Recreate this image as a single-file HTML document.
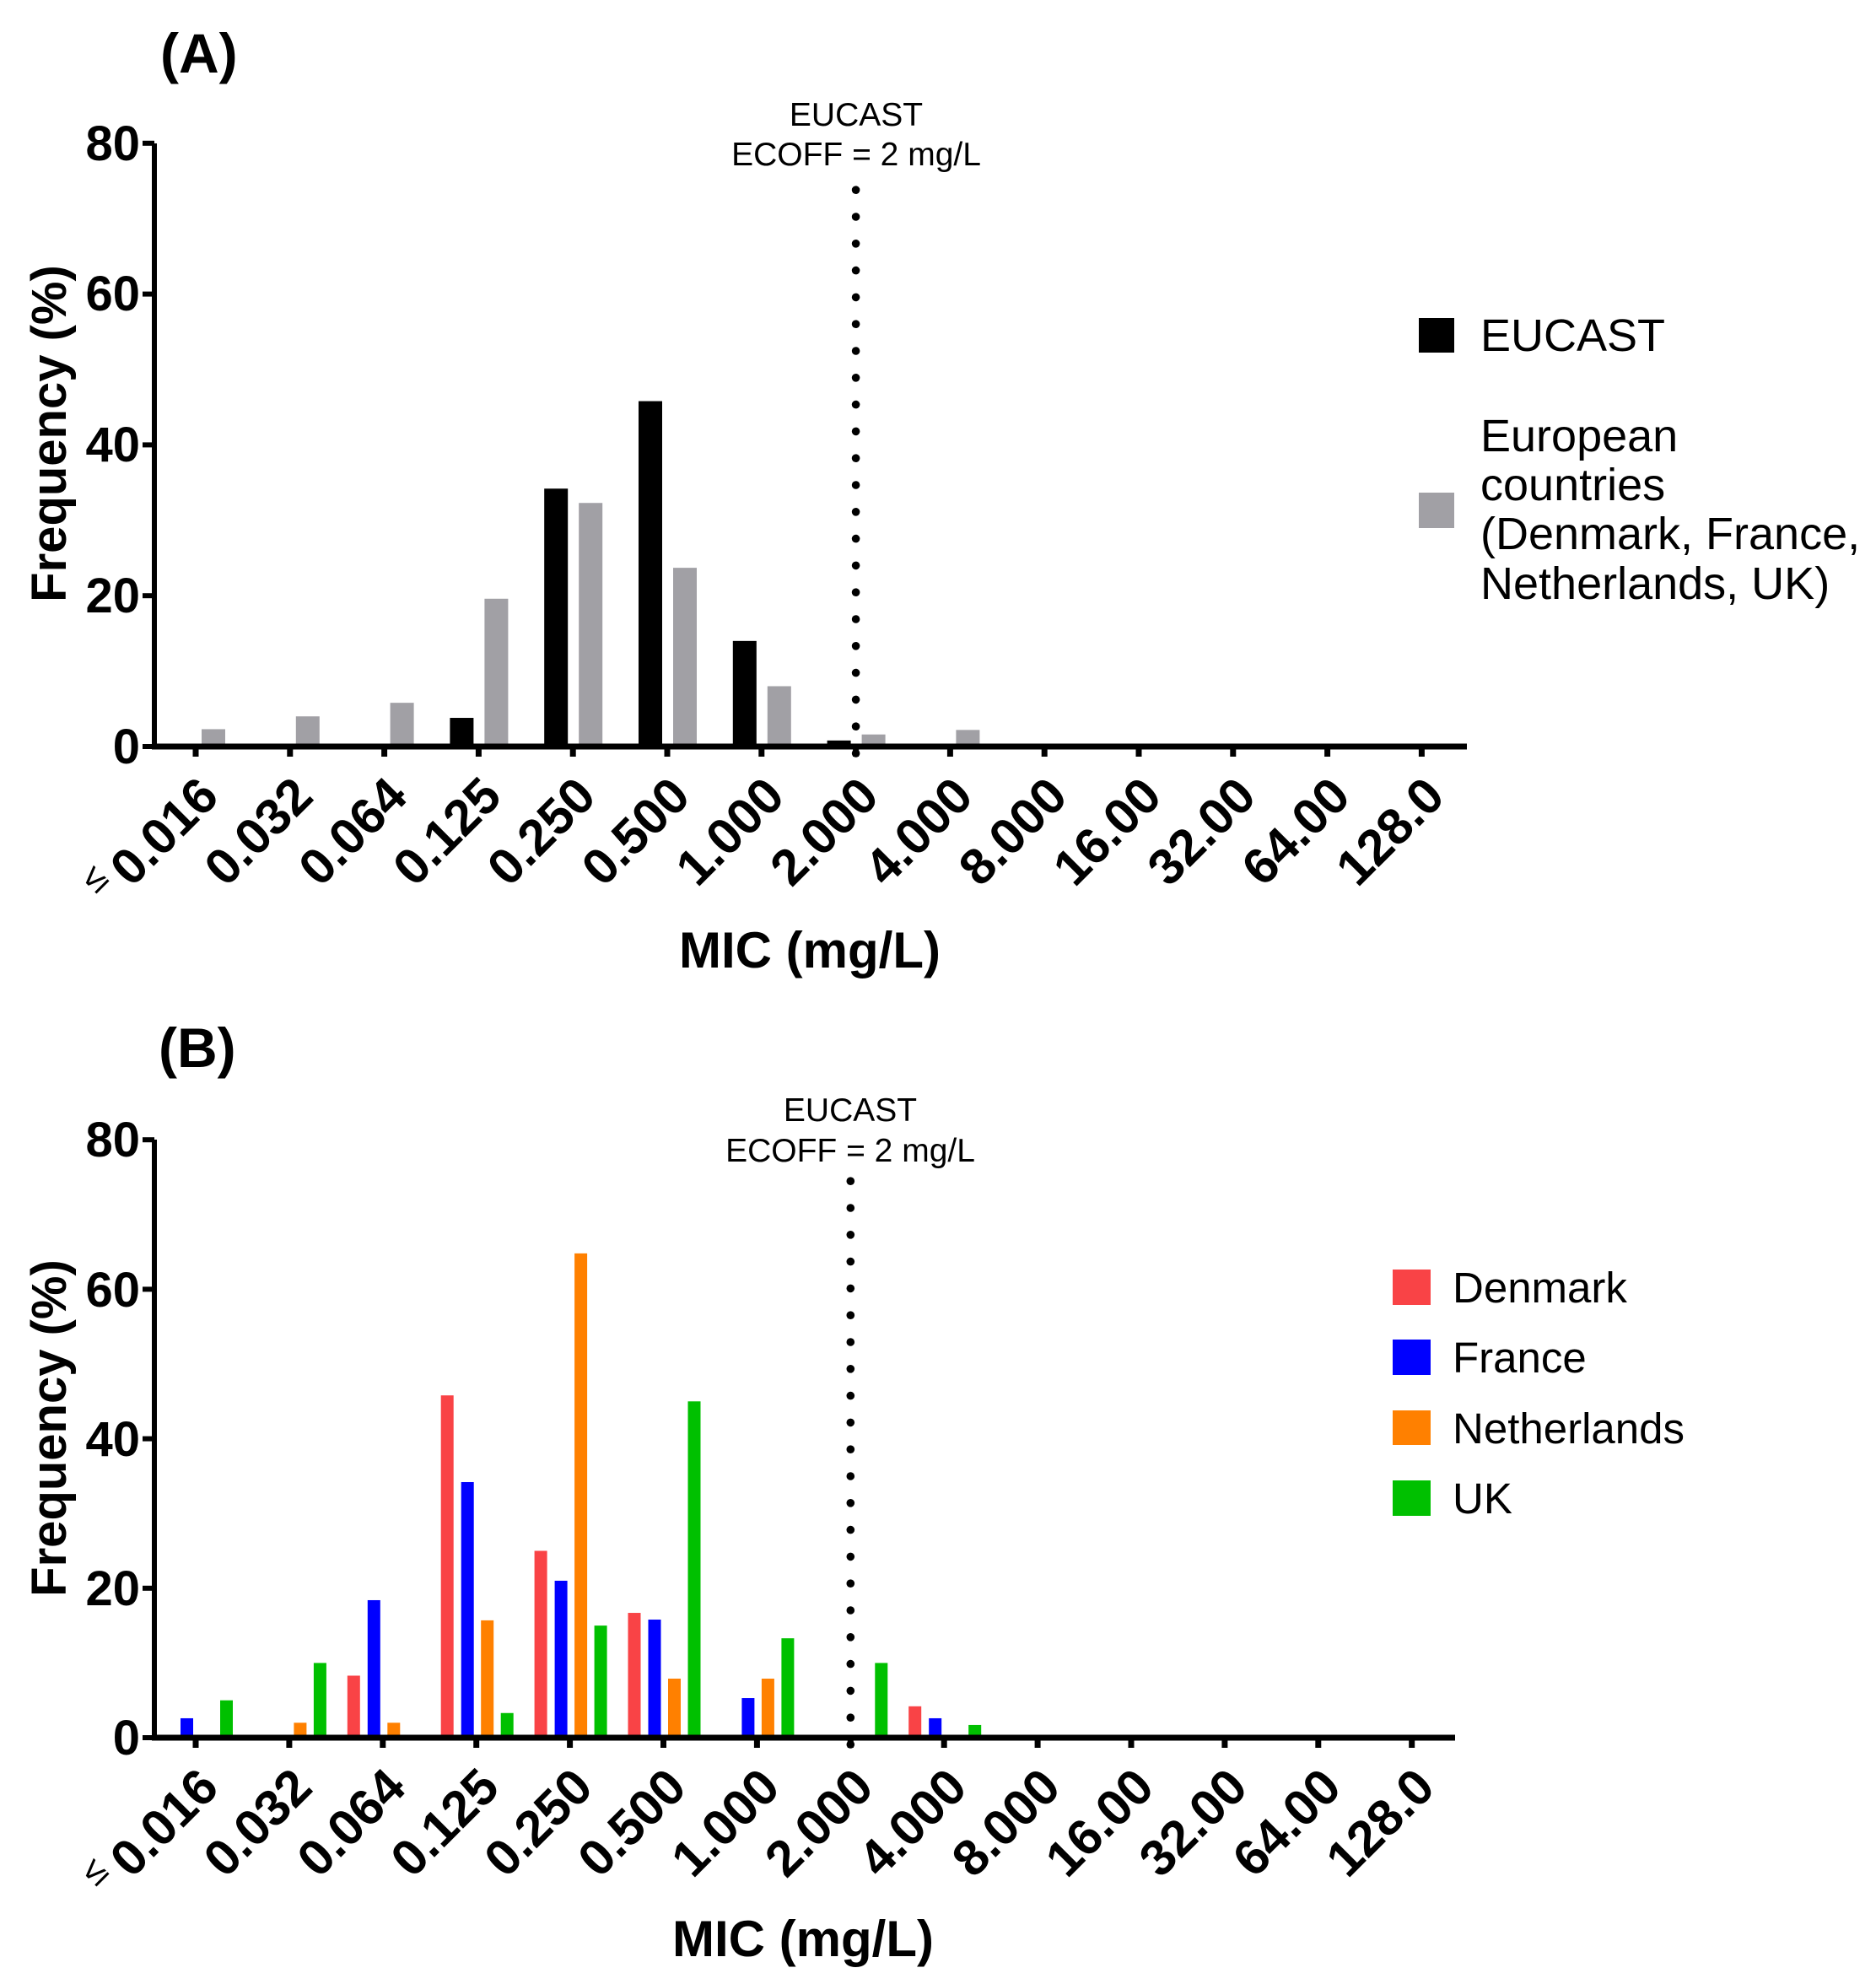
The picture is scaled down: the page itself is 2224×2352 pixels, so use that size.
<!DOCTYPE html>
<html><head><meta charset="utf-8">
<style>
html,body{margin:0;padding:0;background:#fff;}
svg{display:block;}
text{font-family:"Liberation Sans",Arial,sans-serif;}
.b{font-weight:bold;}
</style></head>
<body>
<svg id="s" width="2224" height="2352" viewBox="0 0 2224 2352" xmlns="http://www.w3.org/2000/svg">
<rect width="2224" height="2352" fill="#fff"/>
<g id="bars"></g>
<!-- Panel A -->
<text x="190" y="86" class="b" font-size="66">(A)</text>
<text x="1015" y="149" font-size="39" text-anchor="middle">EUCAST</text>
<text x="1015" y="196" font-size="39" text-anchor="middle">ECOFF = 2 mg/L</text>
<g class="b" font-size="58" text-anchor="end">
<text x="166" y="905">0</text>
<text x="166" y="726">20</text>
<text x="166" y="547">40</text>
<text x="166" y="368">60</text>
<text x="166" y="190">80</text>
</g>
<text class="b" font-size="58" text-anchor="middle" transform="translate(78,514) rotate(-90)">Frequency (%)</text>
<text class="b" font-size="60" x="960" y="1147" text-anchor="middle">MIC (mg/L)</text>
<g id="xlA" class="b" font-size="60" text-anchor="end"></g>
<text font-size="44" text-anchor="middle" transform="translate(122,1052) rotate(-45)">≤</text>
<rect x="1682" y="377" width="42" height="41" fill="#000"/>
<text x="1755" y="416" font-size="54">EUCAST</text>
<rect x="1682" y="584" width="42" height="42" fill="#A1A0A5"/>
<g font-size="54">
<text x="1755" y="535">European</text>
<text x="1755" y="593">countries</text>
<text x="1755" y="651">(Denmark, France,</text>
<text x="1755" y="710">Netherlands, UK)</text>
</g>
<!-- Panel B -->
<text x="188" y="1265" class="b" font-size="66">(B)</text>
<text x="1008" y="1329" font-size="39" text-anchor="middle">EUCAST</text>
<text x="1008" y="1377" font-size="39" text-anchor="middle">ECOFF = 2 mg/L</text>
<g class="b" font-size="58" text-anchor="end">
<text x="166" y="2080">0</text>
<text x="166" y="1903">20</text>
<text x="166" y="1726">40</text>
<text x="166" y="1549">60</text>
<text x="166" y="1371">80</text>
</g>
<text class="b" font-size="58" text-anchor="middle" transform="translate(78,1693) rotate(-90)">Frequency (%)</text>
<text class="b" font-size="60" x="952" y="2319" text-anchor="middle">MIC (mg/L)</text>
<g id="xlB" class="b" font-size="60" text-anchor="end"></g>
<text font-size="44" text-anchor="middle" transform="translate(122,2229) rotate(-45)">≤</text>
<rect x="1651" y="1505" width="45" height="42" fill="#F94346"/>
<rect x="1651" y="1588" width="45" height="42" fill="#0000FF"/>
<rect x="1651" y="1672" width="45" height="41" fill="#FF8000"/>
<rect x="1651" y="1755" width="45" height="42" fill="#00C000"/>
<g font-size="51">
<text x="1722" y="1544">Denmark</text>
<text x="1722" y="1627">France</text>
<text x="1722" y="1711">Netherlands</text>
<text x="1722" y="1794">UK</text>
</g>
</svg>
<script>
(function(){
var NS="http://www.w3.org/2000/svg";
var g=document.getElementById("bars");
function el(t,a,p){var e=document.createElementNS(NS,t);for(var k in a)e.setAttribute(k,a[k]);(p||g).appendChild(e);return e;}
var labs=["0.016","0.032","0.064","0.125","0.250","0.500","1.000","2.000","4.000","8.000","16.00","32.00","64.00","128.0"];
function panel(x0,y0,pp,sp,xend,top,bars,xlg,ly){
  bars.forEach(function(b){var t=x0+sp*b[0];var h=b[3]*pp;el("rect",{x:t+b[1],y:y0-h,width:b[2],height:h,fill:b[4]});});
  el("line",{x1:183,y1:top,x2:183,y2:y0+3,stroke:"#000","stroke-width":6});
  el("line",{x1:180,y1:y0,x2:xend,y2:y0,stroke:"#000","stroke-width":7});
  for(var v=0;v<=80;v+=20){var y=y0-v*pp;el("line",{x1:169,y1:y,x2:183,y2:y,stroke:"#000","stroke-width":6});}
  for(var i=0;i<14;i++){var t=x0+sp*i;el("line",{x1:t,y1:y0,x2:t,y2:y0+12,stroke:"#000","stroke-width":7});
    var tx=el("text",{transform:"translate("+(t+30)+","+ly+") rotate(-45)"},xlg);tx.textContent=labs[i];}
  var dx=x0+sp*7;
  for(var y=y0+8;y>=top+45;y-=31.8){el("circle",{cx:dx,cy:y,r:4.8,fill:"#000"});}
}
var K="#000",G="#A1A0A5",R="#F94346",B="#0000FF",O="#FF8000",N="#00C000";
var A=[];
[[3,3.8],[4,34.2],[5,45.8],[6,14],[7,0.8],[13,0.3]].forEach(function(d){A.push([d[0],-34,28,d[1],K]);});
[[0,2.3],[1,4],[2,5.8],[3,19.6],[4,32.3],[5,23.7],[6,8],[7,1.6],[8,2.2]].forEach(function(d){A.push([d[0],7,28,d[1],G]);});
panel(232,885,8.94,111.8,1739,170,A,document.getElementById("xlA"),947);
var Bb=[];
function add(c,off,arr){arr.forEach(function(d){Bb.push([d[0],off,15,d[1],c]);});}
add(R,-42,[[2,8.3],[3,45.8],[4,25],[5,16.7],[8,4.2]]);
add(B,-18,[[0,2.6],[2,18.4],[3,34.2],[4,21],[5,15.8],[6,5.3],[8,2.6]]);
add(O,5.5,[[1,2],[2,2],[3,15.7],[4,64.8],[5,7.9],[6,7.9]]);
add(N,29,[[0,5],[1,10],[3,3.3],[4,15],[5,45],[6,13.3],[7,10],[8,1.7]]);
panel(232,2060,8.86,110.9,1725,1351,Bb,document.getElementById("xlB"),2122);
})();
</script>
</body></html>
